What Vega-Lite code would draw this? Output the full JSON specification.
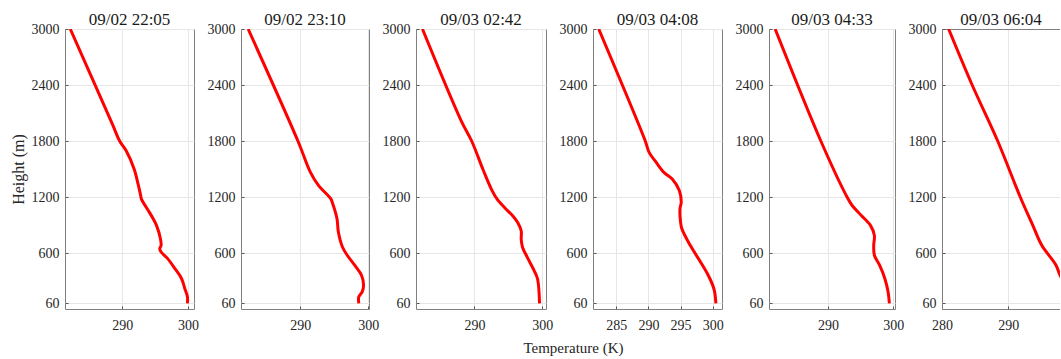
{
  "$schema": "https://vega.github.io/schema/vega-lite/v6.json",
  "padding": {"left": 9, "top": 10, "right": 0, "bottom": 0},
  "background": "white",
  "data": {"values": [
    {"t": "09/02 22:05", "h": 3000, "T": 282.1},
    {"t": "09/02 22:05", "h": 1980, "T": 288.5},
    {"t": "09/02 22:05", "h": 1800, "T": 289.6},
    {"t": "09/02 22:05", "h": 1695, "T": 290.6},
    {"t": "09/02 22:05", "h": 1500, "T": 291.8},
    {"t": "09/02 22:05", "h": 1340, "T": 292.4},
    {"t": "09/02 22:05", "h": 1215, "T": 292.8},
    {"t": "09/02 22:05", "h": 1180, "T": 292.9},
    {"t": "09/02 22:05", "h": 1038, "T": 294.1},
    {"t": "09/02 22:05", "h": 967, "T": 294.7},
    {"t": "09/02 22:05", "h": 896, "T": 295.2},
    {"t": "09/02 22:05", "h": 753, "T": 295.8},
    {"t": "09/02 22:05", "h": 682, "T": 295.9},
    {"t": "09/02 22:05", "h": 647, "T": 295.7},
    {"t": "09/02 22:05", "h": 611, "T": 295.9},
    {"t": "09/02 22:05", "h": 540, "T": 296.9},
    {"t": "09/02 22:05", "h": 433, "T": 298.0},
    {"t": "09/02 22:05", "h": 327, "T": 299.0},
    {"t": "09/02 22:05", "h": 220, "T": 299.5},
    {"t": "09/02 22:05", "h": 131, "T": 299.9},
    {"t": "09/02 22:05", "h": 60, "T": 299.9},

    {"t": "09/02 23:10", "h": 3000, "T": 282.35},
    {"t": "09/02 23:10", "h": 1800, "T": 289.66},
    {"t": "09/02 23:10", "h": 1464, "T": 291.5},
    {"t": "09/02 23:10", "h": 1322, "T": 292.7},
    {"t": "09/02 23:10", "h": 1180, "T": 294.5},
    {"t": "09/02 23:10", "h": 1144, "T": 294.7},
    {"t": "09/02 23:10", "h": 967, "T": 295.4},
    {"t": "09/02 23:10", "h": 824, "T": 295.6},
    {"t": "09/02 23:10", "h": 664, "T": 296.2},
    {"t": "09/02 23:10", "h": 576, "T": 296.9},
    {"t": "09/02 23:10", "h": 469, "T": 298.0},
    {"t": "09/02 23:10", "h": 362, "T": 299.0},
    {"t": "09/02 23:10", "h": 256, "T": 299.3},
    {"t": "09/02 23:10", "h": 184, "T": 299.1},
    {"t": "09/02 23:10", "h": 131, "T": 298.6},
    {"t": "09/02 23:10", "h": 60, "T": 298.6},

    {"t": "09/03 02:42", "h": 3000, "T": 282.35},
    {"t": "09/03 02:42", "h": 2019, "T": 288.04},
    {"t": "09/03 02:42", "h": 1800, "T": 289.6},
    {"t": "09/03 02:42", "h": 1489, "T": 291.3},
    {"t": "09/03 02:42", "h": 1277, "T": 292.55},
    {"t": "09/03 02:42", "h": 1171, "T": 293.4},
    {"t": "09/03 02:42", "h": 1083, "T": 294.5},
    {"t": "09/03 02:42", "h": 994, "T": 295.7},
    {"t": "09/03 02:42", "h": 924, "T": 296.4},
    {"t": "09/03 02:42", "h": 836, "T": 296.9},
    {"t": "09/03 02:42", "h": 747, "T": 296.9},
    {"t": "09/03 02:42", "h": 659, "T": 297.1},
    {"t": "09/03 02:42", "h": 553, "T": 297.8},
    {"t": "09/03 02:42", "h": 412, "T": 298.8},
    {"t": "09/03 02:42", "h": 324, "T": 299.3},
    {"t": "09/03 02:42", "h": 60, "T": 299.6},

    {"t": "09/03 04:08", "h": 3000, "T": 282.25},
    {"t": "09/03 04:08", "h": 1800, "T": 289.5},
    {"t": "09/03 04:08", "h": 1678, "T": 290.1},
    {"t": "09/03 04:08", "h": 1571, "T": 291.2},
    {"t": "09/03 04:08", "h": 1464, "T": 292.4},
    {"t": "09/03 04:08", "h": 1393, "T": 293.7},
    {"t": "09/03 04:08", "h": 1269, "T": 294.8},
    {"t": "09/03 04:08", "h": 1144, "T": 295.1},
    {"t": "09/03 04:08", "h": 1073, "T": 294.9},
    {"t": "09/03 04:08", "h": 931, "T": 295.0},
    {"t": "09/03 04:08", "h": 860, "T": 295.2},
    {"t": "09/03 04:08", "h": 682, "T": 296.5},
    {"t": "09/03 04:08", "h": 504, "T": 298.1},
    {"t": "09/03 04:08", "h": 362, "T": 299.3},
    {"t": "09/03 04:08", "h": 256, "T": 300.0},
    {"t": "09/03 04:08", "h": 184, "T": 300.3},
    {"t": "09/03 04:08", "h": 60, "T": 300.5},

    {"t": "09/03 04:33", "h": 3000, "T": 281.9},
    {"t": "09/03 04:33", "h": 1800, "T": 288.9},
    {"t": "09/03 04:33", "h": 1215, "T": 292.8},
    {"t": "09/03 04:33", "h": 1109, "T": 293.7},
    {"t": "09/03 04:33", "h": 1002, "T": 295.1},
    {"t": "09/03 04:33", "h": 896, "T": 296.5},
    {"t": "09/03 04:33", "h": 789, "T": 297.1},
    {"t": "09/03 04:33", "h": 682, "T": 297.0},
    {"t": "09/03 04:33", "h": 576, "T": 297.1},
    {"t": "09/03 04:33", "h": 469, "T": 297.9},
    {"t": "09/03 04:33", "h": 327, "T": 298.7},
    {"t": "09/03 04:33", "h": 184, "T": 299.2},
    {"t": "09/03 04:33", "h": 60, "T": 299.4},

    {"t": "09/03 06:04", "h": 3000, "T": 281.0},
    {"t": "09/03 06:04", "h": 2400, "T": 284.55},
    {"t": "09/03 06:04", "h": 1800, "T": 288.4},
    {"t": "09/03 06:04", "h": 1200, "T": 291.8},
    {"t": "09/03 06:04", "h": 896, "T": 293.7},
    {"t": "09/03 06:04", "h": 682, "T": 295.05},
    {"t": "09/03 06:04", "h": 469, "T": 297.2},
    {"t": "09/03 06:04", "h": 362, "T": 297.8},
    {"t": "09/03 06:04", "h": 200, "T": 299.0},
    {"t": "09/03 06:04", "h": 60, "T": 300.0}
  ]},
  "config": {
    "font": "Liberation Serif",
    "view": {"stroke": "#808080"},
    "axis": {
      "labelFont": "Liberation Serif", "labelFontSize": 14, "labelColor": "#262626",
      "titleFont": "Liberation Serif", "titleFontSize": 16, "titleFontWeight": "normal", "titleColor": "#262626",
      "gridColor": "#e6e6e6", "domain": false, "ticks": true, "tickSize": -3, "tickColor": "#555555", "labelOverlap": false, "labelFlush": false
    },
    "axisX": {"labelPadding": 12},
    "axisY": {"labelPadding": 9, "titlePadding": 5, "format": "d"},
    "title": {"font": "Liberation Serif", "fontSize": 17, "fontWeight": "normal", "color": "#1a1a1a", "offset": -7, "baseline": "alphabetic", "frame": "group"}
  },
  "spacing": 47,
  "bounds": "flush",
  "hconcat": [
    {
      "width": 129, "height": 280, "title": "09/02 22:05",
      "transform": [{"filter": "datum.t == '09/02 22:05'"}],
      "mark": {"type": "line", "color": "#ff0000", "strokeWidth": 3, "clip": true, "strokeJoin": "round", "interpolate": "catmull-rom"},
      "encoding": {
        "x": {"field": "T", "type": "quantitative", "scale": {"domain": [281.3, 300.9], "nice": false, "zero": false}, "axis": {"values": [290, 300], "title": null}},
        "y": {"field": "h", "type": "quantitative", "scale": {"domain": [0, 3000], "nice": false}, "axis": {"values": [60, 600, 1200, 1800, 2400, 3000], "title": "Height (m)"}},
        "order": {"field": "h", "type": "quantitative"}
      }
    },
    {
      "width": 128, "height": 280, "title": "09/02 23:10",
      "transform": [{"filter": "datum.t == '09/02 23:10'"}],
      "mark": {"type": "line", "color": "#ff0000", "strokeWidth": 3, "clip": true, "strokeJoin": "round", "interpolate": "catmull-rom"},
      "encoding": {
        "x": {"field": "T", "type": "quantitative", "scale": {"domain": [281.3, 300.1], "nice": false, "zero": false}, "axis": {"values": [290, 300], "title": null}},
        "y": {"field": "h", "type": "quantitative", "scale": {"domain": [0, 3000], "nice": false}, "axis": {"values": [60, 600, 1200, 1800, 2400, 3000], "title": null}},
        "order": {"field": "h", "type": "quantitative"}
      }
    },
    {
      "width": 130, "height": 280, "title": "09/03 02:42",
      "transform": [{"filter": "datum.t == '09/03 02:42'"}],
      "mark": {"type": "line", "color": "#ff0000", "strokeWidth": 3, "clip": true, "strokeJoin": "round", "interpolate": "catmull-rom"},
      "encoding": {
        "x": {"field": "T", "type": "quantitative", "scale": {"domain": [281.4, 300.55], "nice": false, "zero": false}, "axis": {"values": [290, 300], "title": "Temperature (K)", "titleFontSize": 15, "titleX": 157, "titleY": 43, "titleBaseline": "alphabetic", "titleAlign": "center", "titleAnchor": "start"}},
        "y": {"field": "h", "type": "quantitative", "scale": {"domain": [0, 3000], "nice": false}, "axis": {"values": [60, 600, 1200, 1800, 2400, 3000], "title": null}},
        "order": {"field": "h", "type": "quantitative"}
      }
    },
    {
      "width": 129, "height": 280, "title": "09/03 04:08",
      "transform": [{"filter": "datum.t == '09/03 04:08'"}],
      "mark": {"type": "line", "color": "#ff0000", "strokeWidth": 3, "clip": true, "strokeJoin": "round", "interpolate": "catmull-rom"},
      "encoding": {
        "x": {"field": "T", "type": "quantitative", "scale": {"domain": [281.36, 301.45], "nice": false, "zero": false}, "axis": {"values": [285, 290, 295, 300], "title": null}},
        "y": {"field": "h", "type": "quantitative", "scale": {"domain": [0, 3000], "nice": false}, "axis": {"values": [60, 600, 1200, 1800, 2400, 3000], "title": null}},
        "order": {"field": "h", "type": "quantitative"}
      }
    },
    {
      "width": 126, "height": 280, "title": "09/03 04:33",
      "transform": [{"filter": "datum.t == '09/03 04:33'"}],
      "mark": {"type": "line", "color": "#ff0000", "strokeWidth": 3, "clip": true, "strokeJoin": "round", "interpolate": "catmull-rom"},
      "encoding": {
        "x": {"field": "T", "type": "quantitative", "scale": {"domain": [280.96, 300.26], "nice": false, "zero": false}, "axis": {"values": [290, 300], "title": null}},
        "y": {"field": "h", "type": "quantitative", "scale": {"domain": [0, 3000], "nice": false}, "axis": {"values": [60, 600, 1200, 1800, 2400, 3000], "title": null}},
        "order": {"field": "h", "type": "quantitative"}
      }
    },
    {
      "width": 118, "height": 280, "title": "09/03 06:04",
      "view": {"stroke": null},
      "transform": [{"filter": "datum.t == '09/03 06:04'"}],
      "mark": {"type": "line", "color": "#ff0000", "strokeWidth": 3, "clip": true, "strokeJoin": "round", "interpolate": "catmull-rom"},
      "encoding": {
        "x": {"field": "T", "type": "quantitative", "scale": {"domain": [280, 297.8], "nice": false, "zero": false}, "axis": {"values": [280, 290], "title": null, "domain": true, "domainColor": "#808080"}},
        "y": {"field": "h", "type": "quantitative", "scale": {"domain": [0, 3000], "nice": false}, "axis": {"values": [60, 600, 1200, 1800, 2400, 3000], "title": null, "domain": true, "domainColor": "#808080", "gridColor": {"condition": {"test": "datum.value == 3000", "value": "#808080"}, "value": "#e6e6e6"}}},
        "order": {"field": "h", "type": "quantitative"}
      }
    }
  ]
}
